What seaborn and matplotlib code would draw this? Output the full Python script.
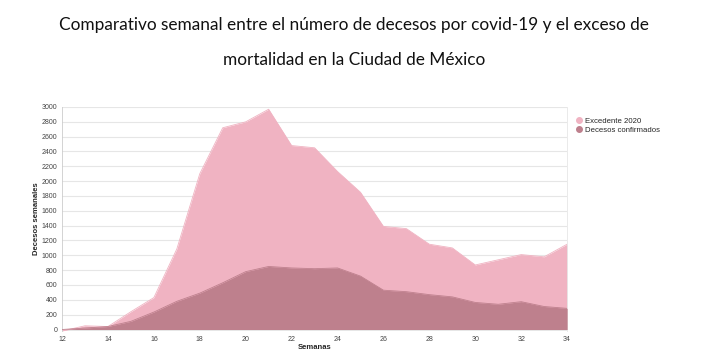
import matplotlib
matplotlib.use("Agg")
import matplotlib.pyplot as plt
import seaborn as sns
import pandas as pd

# --- Data ---
semanas = list(range(12, 35))
excedente_2020 = [-20, 50, 40, 240, 430, 1085, 2100, 2720, 2800, 2970, 2480, 2450,
                  2130, 1850, 1390, 1360, 1150, 1100, 870, 940, 1010, 980, 1150]
decesos_confirmados = [0, 20, 40, 110, 235, 380, 490, 630, 780, 850, 830, 820,
                       830, 720, 530, 510, 470, 440, 365, 340, 375, 310, 285]
y_ticks = list(range(0, 3001, 200))
x_ticks = list(range(12, 35, 2))

PINK = "#F0B3C2"
DARK = "#BE808D"

df = pd.DataFrame({
    "Semana": semanas,
    "Excedente 2020": excedente_2020,
    "Decesos confirmados": decesos_confirmados,
})

sns.set_style("white")
plt.rcParams["font.family"] = ["Liberation Sans", "DejaVu Sans"]

fig = plt.figure(figsize=(7.08, 3.6), dpi=100)
ax = fig.add_axes([0.0876, 0.0806, 0.7134, 0.6222])

ax.fill_between(df["Semana"], 0, df["Excedente 2020"], color=PINK, lw=0, zorder=2)
ax.fill_between(df["Semana"], 0, df["Decesos confirmados"], color=DARK, lw=0, zorder=3)
sns.lineplot(data=df, x="Semana", y="Excedente 2020", ax=ax, color=PINK, lw=0.6, zorder=2)
sns.lineplot(data=df, x="Semana", y="Decesos confirmados", ax=ax, color=DARK, lw=0.6, zorder=3)

ax.set_xlim(12, 34)
ax.set_ylim(-20, 3000)
ax.set_yticks(y_ticks)
ax.set_xticks(x_ticks)
ax.grid(axis="y", color="#e6e6e6", lw=0.8, zorder=1)
ax.set_axisbelow(True)
ax.tick_params(axis="both", labelsize=5, colors="#444444", length=2, width=0.5, pad=1.5)

for side in ["top", "bottom"]:
    ax.spines[side].set_visible(False)
ax.spines["left"].set_color("#cccccc")
ax.spines["right"].set_color("#e6e6e6")
ax.spines["left"].set_linewidth(0.6)
ax.spines["right"].set_linewidth(0.6)

ax.set_ylabel("Decesos semanales", fontsize=5.5, fontweight="bold", labelpad=1)
ax.set_xlabel("Semanas", fontsize=5.5, fontweight="bold", labelpad=1)

# legend with round markers
handles = [
    plt.Line2D([], [], marker="o", ls="", color=PINK, markersize=4),
    plt.Line2D([], [], marker="o", ls="", color=DARK, markersize=4),
]
fig.legend(handles, ["Excedente 2020", "Decesos confirmados"],
           loc="upper left", bbox_to_anchor=(0.807, 0.685), frameon=False,
           fontsize=5.6, handletextpad=0.2, labelspacing=0.25, borderpad=0,
           handlelength=1)

title_font = ["Lato", "DejaVu Sans"]
fig.text(0.5, 0.93, "Comparativo semanal entre el número de decesos por covid-19 y el exceso de",
         ha="center", va="center", fontsize=12.4, family=title_font, color="#111111")
fig.text(0.5, 0.832, "mortalidad en la Ciudad de México",
         ha="center", va="center", fontsize=12.4, family=title_font, color="#111111")

fig.savefig("out.png", dpi=100)
